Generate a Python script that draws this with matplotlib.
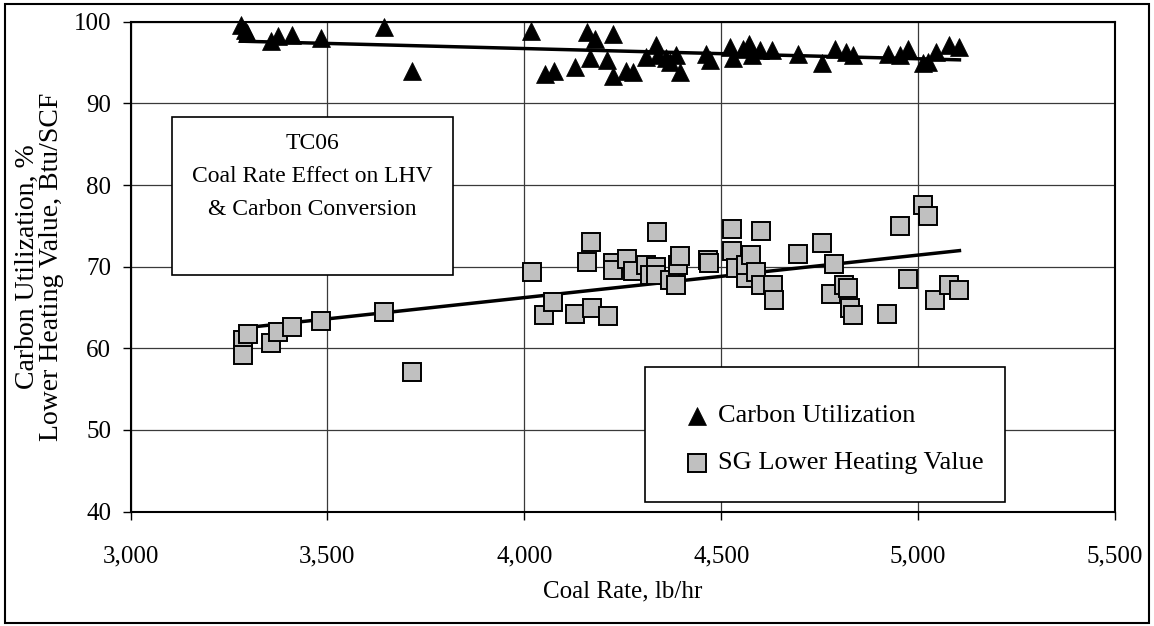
import numpy as np
import matplotlib
matplotlib.use("Agg")
import matplotlib.pyplot as plt
from matplotlib.patches import Rectangle

plt.rcParams['font.family'] = ['Liberation Serif', 'DejaVu Serif']

# Carbon utilization, % vs coal rate, lb/hr
cu_rate = [3280, 3290, 3295, 3358, 3375, 3409, 3483, 3643, 3714, 4018,
           4052, 4075, 4128, 4159, 4166, 4179, 4209, 4224, 4225, 4258,
           4276, 4310, 4335, 4339, 4361, 4369, 4386, 4395, 4462, 4471,
           4522, 4530, 4556, 4570, 4577, 4598, 4630, 4695, 4757, 4788,
           4818, 4834, 4923, 4953, 4974, 5012, 5025, 5046, 5078, 5105]
cu_value = [99.6, 99.0, 98.6, 97.6, 98.2, 98.4, 98.0, 99.3, 94.0, 98.9,
            93.6, 94.0, 94.5, 98.7, 95.5, 97.9, 95.3, 93.4, 98.5, 94.0,
            93.8, 95.7, 97.1, 95.9, 95.5, 95.1, 95.9, 93.8, 96.1, 95.3,
            96.9, 95.5, 96.7, 97.3, 95.9, 96.5, 96.5, 96.1, 94.9, 96.7,
            96.3, 95.9, 96.1, 95.9, 96.7, 94.9, 95.1, 96.3, 97.1, 96.9]

# Syngas lower heating value, Btu/SCF vs coal rate, lb/hr
lhv_rate = [3286, 3286, 3299, 3358, 3375, 3409, 3483, 3643, 3714, 4020,
            4050, 4074, 4128, 4159, 4173, 4170, 4213, 4225, 4225, 4260,
            4275, 4310, 4318, 4335, 4335, 4337, 4369, 4386, 4390, 4395,
            4466, 4470, 4527, 4527, 4538, 4564, 4564, 4575, 4588, 4600,
            4600, 4631, 4634, 4695, 4756, 4779, 4786, 4813, 4822, 4826,
            4834, 4922, 4953, 4974, 5012, 5026, 5043, 5078, 5105]
lhv_value = [61.0, 59.2, 61.8, 60.7, 62.0, 62.6, 63.4, 64.4, 57.1, 69.3,
             64.1, 65.7, 64.2, 70.6, 64.9, 73.0, 64.0, 70.4, 69.6, 71.0,
             69.5, 70.2, 69.0, 70.0, 69.0, 74.2, 68.4, 67.8, 70.2, 71.3,
             70.8, 70.5, 74.6, 71.9, 69.8, 68.6, 70.2, 71.4, 69.4, 74.4,
             67.8, 67.8, 65.9, 71.6, 72.9, 66.7, 70.3, 67.8, 67.4, 64.9,
             64.1, 64.2, 75.0, 68.45, 77.55, 76.2, 65.9, 67.8, 67.1]

x_ticks = [3000, 3500, 4000, 4500, 5000, 5500]
y_ticks = [40, 50, 60, 70, 80, 90, 100]

series_labels = ["Carbon Utilization", "SG Lower Heating Value"]
box_title = "TC06\nCoal Rate Effect on LHV\n& Carbon Conversion"

TRI = dict(marker='^', markersize=13, markerfacecolor='black',
           markeredgecolor='black', markeredgewidth=0.5)
SQ = dict(marker='s', markersize=12.3, markerfacecolor='#c0c0c0',
          markeredgecolor='black', markeredgewidth=1.4)

fig = plt.figure(figsize=(11.54, 6.26), dpi=100)
ax = fig.add_axes([0.1131, 0.1827, 0.9662 - 0.1131, 0.9653 - 0.1827])

ax.set_xlim(3000, 5500)
ax.set_ylim(40, 100)
ax.set_xticks(x_ticks)
ax.set_yticks(y_ticks)
ax.set_xticklabels([f"{v:,}" for v in x_ticks])
ax.tick_params(axis='both', direction='out', length=6, width=1.0,
               labelsize=18, colors='black')
ax.tick_params(axis='x', pad=18)
ax.tick_params(axis='y', pad=8)
ax.grid(True, color='#3a3a3a', linewidth=0.9, zorder=0)
ax.set_axisbelow(True)
for sp in ax.spines.values():
    sp.set_linewidth(1.5)
    sp.set_color('black')

# linear trends
for xs, ys in ((cu_rate, cu_value), (lhv_rate, lhv_value)):
    k, b = np.polyfit(xs, ys, 1)
    xx = np.array([min(xs), max(xs)])
    ax.plot(xx, k * xx + b, color='black', linewidth=2.5, zorder=2)

ax.plot(cu_rate, cu_value, linestyle='none', zorder=3, clip_on=False, **TRI)
ax.plot(lhv_rate, lhv_value, linestyle='none', zorder=3, clip_on=False, **SQ)

ax.set_xlabel("Coal Rate, lb/hr", fontsize=18, labelpad=10)
ax.set_ylabel("Carbon Utilization, %\nLower Heating Value, Btu/SCF",
              fontsize=20, labelpad=7, linespacing=0.95,
              multialignment='center')

# title box
ax.add_patch(Rectangle((0.042, 0.483), 0.2856, 0.3225, transform=ax.transAxes,
                       facecolor='white', edgecolor='black', linewidth=1.2,
                       zorder=5))
ax.text(0.1848, 0.772, box_title, transform=ax.transAxes, ha='center', va='top',
        fontsize=17, linespacing=1.75, zorder=6)

# legend
ax.add_patch(Rectangle((0.5226, 0.0196), 0.3657, 0.2754, transform=ax.transAxes,
                       facecolor='white', edgecolor='black', linewidth=1.2,
                       zorder=5))
for yy, style, label in ((0.195, TRI, series_labels[0]),
                         (0.099, SQ, series_labels[1])):
    ax.plot([0.5753], [yy], transform=ax.transAxes, linestyle='none',
            zorder=6, clip_on=False, **style)
    ax.text(0.597, yy, label, transform=ax.transAxes, ha='left',
            va='center', fontsize=19, zorder=6)

# outer figure frame
fig.patches.append(Rectangle((0.004, 0.004), 0.992, 0.99, transform=fig.transFigure,
                             fill=False, edgecolor='black', linewidth=1.5))

fig.savefig("out.png", dpi=100)
